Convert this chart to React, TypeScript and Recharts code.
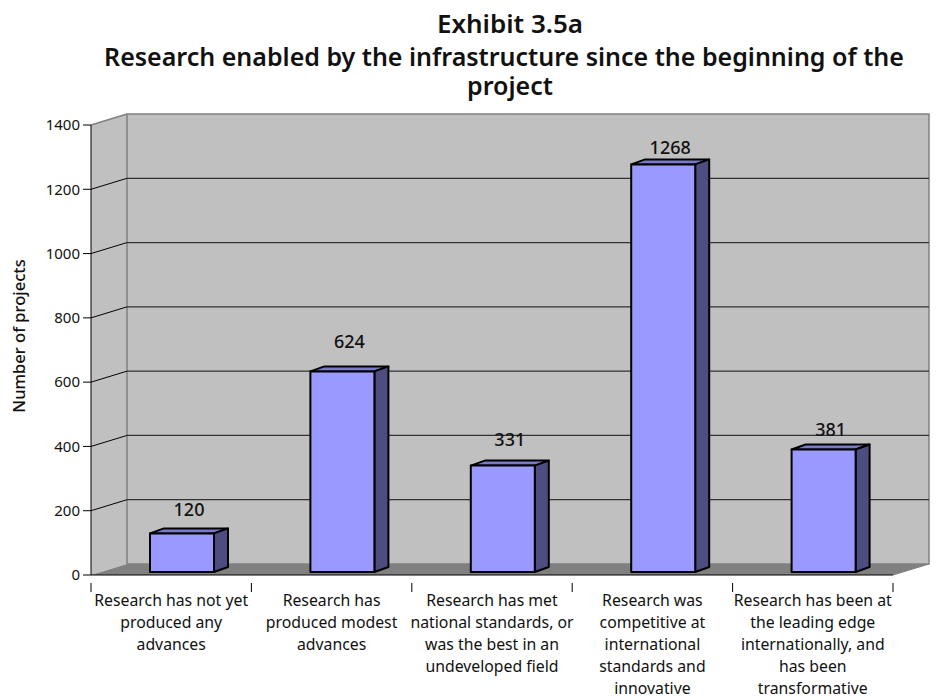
import { BarChart, Bar, XAxis, YAxis, ReferenceArea, ReferenceLine, LabelList } from "recharts";

const categories = [
  "Research has not yet\nproduced any\nadvances",
  "Research has\nproduced modest\nadvances",
  "Research has met\nnational standards, or\nwas the best in an\nundeveloped field",
  "Research was\ncompetitive at\ninternational\nstandards and\ninnovative",
  "Research has been at\nthe leading edge\ninternationally, and\nhas been\ntransformative",
];
const projects = [120, 624, 331, 1268, 381];
const yTicks = [0, 200, 400, 600, 800, 1000, 1200, 1400];
const titleLines = [
  "Exhibit 3.5a",
  "Research enabled by the infrastructure since the beginning of the",
  "project",
];

// how far each value label floats above its bar, as placed in the original
const labelLift = [24, 30, 26, 17, 20];
const titleBaselines = [33, 66, 95];

const chartData = categories.map((name, i) => ({ name, projects: projects[i] }));

const FONT = "'Noto Sans', sans-serif";
const PLOT_TOP = 125;
const WALL_DX = 36;
const WALL_DY = 11;
const BAR_SHIFT_X = 11;
const BAR_SHIFT_Y = 3;
const BAR_DX = 14;
const BAR_DY = 5;

function Walls({ x, y, width, height }: any) {
  const b = y + height;
  const r = x + width;
  return (
    <g>
      <polygon points={`${x},${y} ${x + WALL_DX},${y - WALL_DY} ${x + WALL_DX},${b - WALL_DY} ${x},${b}`} fill="#c0c0c0" />
      <rect x={x + WALL_DX} y={y - WALL_DY} width={width} height={height} fill="#c0c0c0" stroke="#808080" strokeWidth={1.5} />
      <polygon points={`${x},${b} ${x + WALL_DX},${b - WALL_DY} ${r + WALL_DX},${b - WALL_DY} ${r},${b}`} fill="#808080" />
      <line x1={r} y1={b} x2={r + WALL_DX} y2={b - WALL_DY} stroke="#808080" />
      <line x1={x} y1={y} x2={x + WALL_DX} y2={y - WALL_DY} stroke="#808080" strokeWidth={1.5} />
    </g>
  );
}

function GridLine({ x1, x2, y }: any) {
  return (
    <g>
      <line x1={x1} y1={y} x2={x1 + WALL_DX} y2={y - WALL_DY} stroke="#000" />
      <line x1={x1 + WALL_DX} y1={y - WALL_DY} x2={x2 + WALL_DX} y2={y - WALL_DY} stroke="#333" strokeWidth={1.2} />
    </g>
  );
}

function gridShape(p: any) {
  const s = p.segment ?? [{ x: p.x1, y: p.y1 }, { x: p.x2, y: p.y2 }];
  return <GridLine x1={s[0].x} x2={s[1].x} y={s[0].y} />;
}

function Box3D({ x, y, width, height }: any) {
  const l = x + BAR_SHIFT_X;
  const t = y - BAR_SHIFT_Y;
  const r = l + width;
  const b = t + height;
  return (
    <g stroke="#000" strokeWidth={2} strokeLinejoin="round">
      <polygon points={`${l},${t} ${l + BAR_DX},${t - BAR_DY} ${r + BAR_DX},${t - BAR_DY} ${r},${t}`} fill="#7a7acc" />
      <polygon points={`${r},${t} ${r + BAR_DX},${t - BAR_DY} ${r + BAR_DX},${b - BAR_DY} ${r},${b}`} fill="#4d4d80" />
      <rect x={l} y={t} width={width} height={height} fill="#9999ff" />
    </g>
  );
}

function ValueLabel({ x, y, width, value, index }: any) {
  return (
    <text x={x + width / 2 + 18} y={y - labelLift[index] + 3.5} textAnchor="middle" fontFamily={FONT} fontSize={18} fontWeight={500} fill="#111">
      {value}
    </text>
  );
}

function CategoryTick({ x, y, payload, index }: any) {
  const half = payload.offset ?? 80.2;
  const lines = String(payload.value).split("\n");
  return (
    <g>
      <line x1={x - half} y1={y} x2={x - half} y2={y + 9} stroke="#000" />
      {index === categories.length - 1 && <line x1={x + half} y1={y} x2={x + half} y2={y + 9} stroke="#000" />}
      <text textAnchor="middle" fontFamily={FONT} fontSize={15.8} fill="#111">
        {lines.map((line, i) => (
          <tspan key={i} x={x} y={y + 23 + i * 22}>{line}</tspan>
        ))}
      </text>
    </g>
  );
}

function AxisTitle({ viewBox }: any) {
  const cy = viewBox.y + viewBox.height / 2 - 14;
  return (
    <text x={25} y={cy} transform={`rotate(-90 25 ${cy})`} textAnchor="middle" fontFamily={FONT} fontSize={16.5} fontWeight={500} fill="#111">
      Number of projects
    </text>
  );
}

export default function App() {
  return (
    <div style={{ position: "relative", width: 943, height: 696, marginLeft: -8, marginTop: -8 }}>
      <BarChart
        width={943}
        height={696}
        data={chartData}
        margin={{ top: PLOT_TOP, right: 50, bottom: 0, left: 0 }}
      >
        <ReferenceArea y1={0} y2={1400} shape={<Walls />} zIndex={-200} />
        {yTicks.slice(1, -1).map((v) => (
          <ReferenceLine key={v} y={v} shape={gridShape} zIndex={-100} />
        ))}
        <XAxis
          dataKey="name"
          height={121}
          interval={0}
          axisLine={{ stroke: "#000" }}
          tickLine={false}
          tick={<CategoryTick />}
        />
        <YAxis
          width={91}
          domain={[0, 1400]}
          ticks={yTicks}
          interval={0}
          tickSize={8}
          tickMargin={3}
          axisLine={{ stroke: "#000" }}
          tickLine={{ stroke: "#000" }}
          tick={{ fontFamily: FONT, fontSize: 15, fill: "#111" }}
          label={<AxisTitle />}
        />
        <Bar dataKey="projects" barSize={64} shape={<Box3D />} isAnimationActive={false}>
          <LabelList dataKey="projects" content={<ValueLabel />} />
        </Bar>
      </BarChart>
      <svg width={943} height={110} style={{ position: "absolute", left: 0, top: 0 }}>
        {titleLines.map((line, i) => (
          <text key={i} x={i === 1 ? 504 : 510} y={titleBaselines[i]} textAnchor="middle" fontFamily={FONT} fontWeight={600} fontSize={i === 0 ? 26 : 25} fill="#111">
            {line}
          </text>
        ))}
      </svg>
    </div>
  );
}
